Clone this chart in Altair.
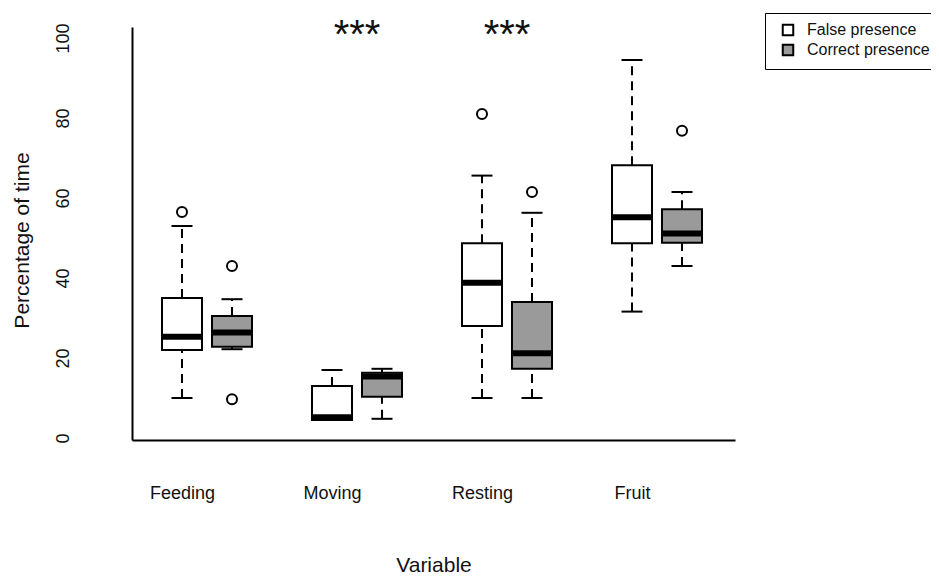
import altair as alt
import pandas as pd

categories = ["Feeding", "Moving", "Resting", "Fruit"]
groups = ["False presence", "Correct presence"]

false_low = [10, 4.5, 10, 31.6]
false_q1 = [22, 4.5, 28, 48.7]
false_med = [25.3, 5.2, 38.8, 55.2]
false_q3 = [35, 13, 48.7, 68.2]
false_high = [53, 17, 65.6, 94.5]
false_out = [[56.5], [], [81], []]

correct_low = [22.2, 4.8, 10, 43]
correct_q1 = [22.8, 10.3, 17.3, 48.8]
correct_med = [26.4, 15.4, 21.2, 51.1]
correct_q3 = [30.5, 16.3, 34, 57.2]
correct_high = [34.7, 17.3, 56.3, 61.5]
correct_out = [[43, 9.7], [], [61.5], [76.8]]

significance = ["", "***", "***", ""]
sig_y = 97.5

FONT = "Liberation Sans"

stats = {
    "False presence": (false_low, false_q1, false_med, false_q3, false_high, false_out, 1),
    "Correct presence": (correct_low, correct_q1, correct_med, correct_q3, correct_high, correct_out, 2),
}

rows, out_rows, sig_rows = [], [], []
for i, cat in enumerate(categories):
    for g in groups:
        lo, q1, med, q3, hi, outs, off = stats[g]
        pos = 3 * i + off
        rows.append({
            "category": cat, "group": g, "pos": pos,
            "xlo": pos - 0.4, "xhi": pos + 0.4,
            "cl": pos - 0.21, "cr": pos + 0.21,
            "low": lo[i], "q1": q1[i], "med": med[i], "q3": q3[i], "high": hi[i],
        })
        for v in outs[i]:
            out_rows.append({"category": cat, "group": g, "pos": pos, "value": v})
    if significance[i]:
        sig_rows.append({"pos": 3 * i + 1.5, "y": sig_y, "label": significance[i]})

df = pd.DataFrame(rows)
df_out = pd.DataFrame(out_rows)
df_sig = pd.DataFrame(sig_rows)

xscale = alt.Scale(domain=[0, 12.06], nice=False, zero=False)
yscale = alt.Scale(domain=[-0.5, 102.75], nice=False, zero=False)

label_expr = ("datum.value == 1 ? 'Feeding' : datum.value == 4 ? 'Moving' : "
              "datum.value == 7 ? 'Resting' : datum.value == 10 ? 'Fruit' : ''")

xaxis = alt.Axis(values=[1, 4, 7, 10], labelExpr=label_expr, title="Variable",
                 grid=False, ticks=False, tickSize=0, domainColor="black", domainWidth=2,
                 labelFont=FONT, labelFontSize=18, labelColor="#111", labelPadding=44,
                 labelBaseline="top", labelAlign="center",
                 titleFont=FONT, titleFontSize=21, titleFontWeight="normal", titleColor="#111",
                 titleBaseline="alphabetic", titleY=131, titleX=301.5, titleAnchor="middle")
yaxis = alt.Axis(values=[0, 20, 40, 60, 80, 100], title="Percentage of time",
                 grid=False, ticks=False, tickSize=0, domainColor="black", domainWidth=2,
                 labelFont=FONT, labelFontSize=18, labelColor="#111", labelPadding=60,
                 labelAngle=270, labelAlign="center", labelBaseline="bottom",
                 titleFont=FONT, titleFontSize=21, titleFontWeight="normal", titleColor="#111",
                 titleAngle=270, titleBaseline="alphabetic", titleAlign="center",
                 titleX=-104, titleY=213)

base = alt.Chart(df)

upper_whisker = base.mark_rule(color="black", strokeWidth=2, strokeDash=[9, 6]).encode(
    x=alt.X("pos:Q", scale=xscale, axis=xaxis),
    y=alt.Y("q3:Q", scale=yscale, axis=yaxis),
    y2="high:Q",
)
lower_whisker = base.mark_rule(color="black", strokeWidth=2, strokeDash=[9, 6]).encode(
    x="pos:Q", y="low:Q", y2="q1:Q",
)
cap_hi = base.mark_rule(color="black", strokeWidth=2).encode(x="cl:Q", x2="cr:Q", y="high:Q")
cap_lo = base.mark_rule(color="black", strokeWidth=2).encode(x="cl:Q", x2="cr:Q", y="low:Q")

box = base.mark_rect(stroke="black", strokeWidth=2).encode(
    x="xlo:Q", x2="xhi:Q", y="q1:Q", y2="q3:Q",
    fill=alt.Fill("group:N",
                  scale=alt.Scale(domain=groups, range=["white", "#9a9a9a"]),
                  legend=alt.Legend(title=None, orient="none", legendX=633, legendY=-14,
                                    symbolType="square", symbolSize=110,
                                    symbolStrokeColor="black", symbolStrokeWidth=2,
                                    symbolOffset=6,
                                    labelFont=FONT, labelFontSize=16, labelColor="#111",
                                    strokeColor="black", padding=9, rowPadding=0,
                                    labelOffset=11)),
)
median = base.mark_rule(color="black", strokeWidth=6).encode(x="xlo:Q", x2="xhi:Q", y="med:Q")

outliers = alt.Chart(df_out).mark_point(shape="circle", filled=False, color="black",
                                        strokeWidth=2, size=100, opacity=1).encode(
    x="pos:Q", y="value:Q",
)

sig = alt.Chart(df_sig).mark_text(font=FONT, fontSize=40, baseline="alphabetic",
                                  align="center", color="#111").encode(
    x="pos:Q", y="y:Q", text="label:N",
)

chart = alt.layer(upper_whisker, lower_whisker, cap_hi, cap_lo, box, median, outliers, sig).properties(
    width=603, height=413,
    autosize=alt.AutoSizeParams(type="none"),
    padding={"left": 124, "top": 19, "right": 196, "bottom": 137},
).configure(background="white", view=alt.ViewConfig(stroke=None))

chart.save("out.html", embed_options={"renderer": "svg", "actions": False})
